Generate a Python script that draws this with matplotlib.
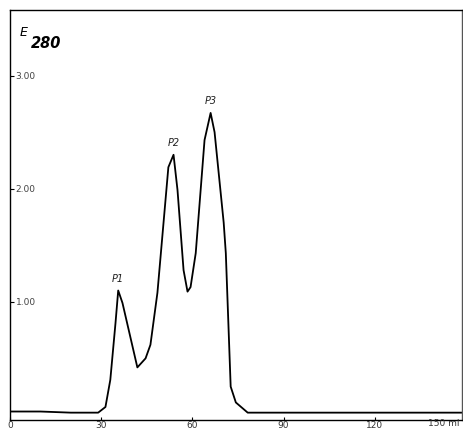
import matplotlib.pyplot as plt

# elution volume (ml) and absorbance at 280 nm
volume_ml = [0, 10, 20, 29.0, 31.4, 33.0, 34.7, 35.6, 37.0, 41.9, 44.6, 46.2,
             48.5, 52.1, 53.8, 55.1, 57.1, 58.4, 59.4, 61.1, 64.0, 66.0, 67.3,
             70.3, 71.0, 72.6, 74.3, 78.2, 100, 125, 148.7]
absorbance = [0.03, 0.03, 0.02, 0.02, 0.07, 0.31, 0.81, 1.10, 0.99, 0.42, 0.50, 0.62,
              1.08, 2.19, 2.30, 1.99, 1.28, 1.09, 1.13, 1.43, 2.43, 2.67, 2.50,
              1.70, 1.43, 0.25, 0.11, 0.02, 0.02, 0.02, 0.02]

peak_names = ["P1", "P2", "P3"]
peak_volume = [35.6, 53.8, 66.0]
peak_height = [1.10, 2.30, 2.67]

y_ticks = [1.0, 2.0, 3.0]
y_tick_labels = ["1.00", "2.00", "3.00"]
x_ticks = [0, 30, 60, 90, 120]
x_tick_labels = ["0", "30", "60", "90", "120"]

fig = plt.figure(figsize=(4.63, 4.29), dpi=100)
ax = fig.add_axes([10 / 463, 9 / 429, 452 / 463, 410 / 429])

ax.plot(volume_ml, absorbance, color="black", linewidth=1.3)

ax.set_xlim(0, 148.7)
ax.set_ylim(-0.045, 3.58)

ax.set_yticks(y_ticks)
ax.set_yticklabels(y_tick_labels)
ax.tick_params(axis="y", direction="in", length=3, width=0.8, pad=-4,
               labelsize=6.5, labelcolor="#444444")
for lbl in ax.get_yticklabels():
    lbl.set_horizontalalignment("left")

ax.set_xticks(x_ticks)
ax.set_xticklabels(x_tick_labels)
ax.tick_params(axis="x", direction="in", length=2, width=0.8, pad=1,
               labelsize=6.5, labelcolor="#333333")
ax.text(0.96, -0.019, "150 ml", transform=ax.transAxes, fontsize=6.5,
        color="#333333", ha="center", va="bottom")

for side in ["left", "bottom", "top", "right"]:
    ax.spines[side].set_linewidth(1.0)
ax.spines["right"].set_color("#555555")

for name, vx, vy in zip(peak_names, peak_volume, peak_height):
    ax.annotate(name, (vx, vy), xytext=(0, 5), textcoords="offset points",
                ha="center", va="bottom", fontsize=7, style="italic",
                color="#222222")

ax.text(0.021, 0.946, "E", transform=ax.transAxes, fontsize=9, style="italic",
        ha="left", va="center")
ax.text(0.047, 0.918, "280", transform=ax.transAxes, fontsize=10.5,
        style="italic", weight="bold", ha="left", va="center")

fig.savefig("out.png", dpi=100)
